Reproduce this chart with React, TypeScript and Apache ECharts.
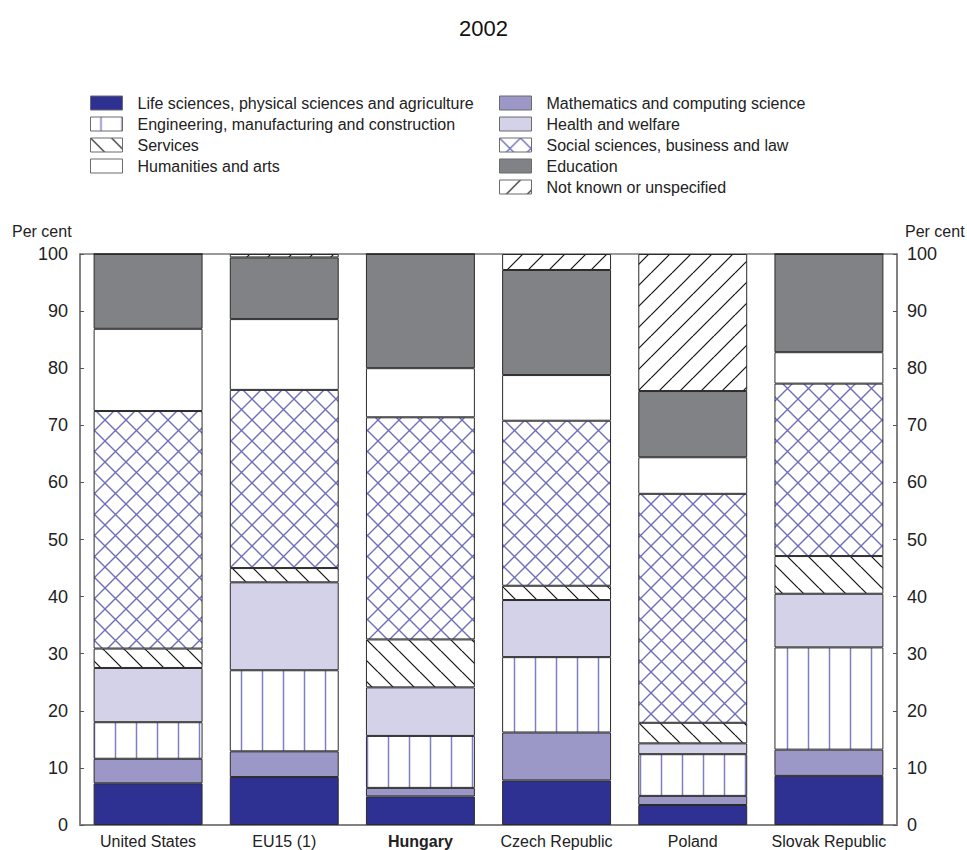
import React, { useEffect, useRef } from "react";
import * as echarts from "echarts";

const categories = ["United States", "EU15 (1)", "Hungary", "Czech Republic", "Poland", "Slovak Republic"];
const yTicks = [0, 10, 20, 30, 40, 50, 60, 70, 80, 90, 100];

const lifeSciences = [7.3, 8.4, 5.0, 7.8, 3.5, 8.6];
const mathematics = [4.3, 4.5, 1.5, 8.4, 1.6, 4.6];
const engineering = [6.4, 14.2, 9.1, 13.2, 7.3, 17.9];
const health = [9.5, 15.4, 8.5, 10.0, 1.9, 9.4];
const services = [3.4, 2.5, 8.4, 2.5, 3.6, 6.6];
const socialSciences = [41.6, 31.2, 38.9, 28.9, 40.1, 30.2];
const humanities = [14.4, 12.4, 8.6, 8.0, 6.4, 5.5];
const education = [13.1, 10.8, 20.0, 18.4, 11.6, 17.2];
const notKnown = [0, 0.6, 0, 2.8, 24.0, 0];

const names = {
  life: "Life sciences, physical sciences and agriculture",
  eng: "Engineering, manufacturing and construction",
  serv: "Services",
  hum: "Humanities and arts",
  math: "Mathematics and computing science",
  health: "Health and welfare",
  social: "Social sciences, business and law",
  edu: "Education",
  nk: "Not known or unspecified",
};

const FONT = "'Liberation Sans', Arial, Helvetica, sans-serif";

function makeTile(size: number, draw: (ctx: CanvasRenderingContext2D, s: number) => void) {
  const c = document.createElement("canvas");
  c.width = size;
  c.height = size;
  const ctx = c.getContext("2d") as CanvasRenderingContext2D;
  ctx.fillStyle = "#ffffff";
  ctx.fillRect(0, 0, size, size);
  draw(ctx, size);
  return { image: c, repeat: "repeat", imageWidth: size, imageHeight: size } as any;
}

function backslash(ctx: CanvasRenderingContext2D, s: number) {
  for (const k of [-1, 0, 1]) {
    ctx.moveTo(k * s, 0);
    ctx.lineTo(k * s + s, s);
  }
}
function slash(ctx: CanvasRenderingContext2D, s: number) {
  for (const k of [0, 1, 2]) {
    ctx.moveTo(k * s, 0);
    ctx.lineTo(k * s - s, s);
  }
}

export default function App() {
  const ref = useRef<HTMLDivElement>(null);
  useEffect(() => {
    if (!ref.current) return;
    const chart = echarts.init(ref.current, undefined, { renderer: "svg" });

    const vertPattern = makeTile(21, (ctx, s) => {
      ctx.strokeStyle = "#7f7fc2";
      ctx.lineWidth = 1.5;
      ctx.beginPath();
      ctx.moveTo(10.5, 0);
      ctx.lineTo(10.5, s);
      ctx.stroke();
    });
    const servPattern = makeTile(21, (ctx, s) => {
      ctx.strokeStyle = "#111111";
      ctx.lineWidth = 1.2;
      ctx.beginPath();
      backslash(ctx, s);
      ctx.stroke();
    });
    const nkPattern = makeTile(21, (ctx, s) => {
      ctx.strokeStyle = "#111111";
      ctx.lineWidth = 1.2;
      ctx.beginPath();
      slash(ctx, s);
      ctx.stroke();
    });
    const socialPattern = makeTile(21, (ctx, s) => {
      ctx.strokeStyle = "#6e6ebd";
      ctx.lineWidth = 1.4;
      ctx.beginPath();
      backslash(ctx, s);
      slash(ctx, s);
      ctx.stroke();
    });

    const border = { borderColor: "#2b2b2b", borderWidth: 1 };
    const mk = (name: string, data: number[], color: any) => ({
      name,
      type: "bar",
      stack: "total",
      data,
      barCategoryGap: "20%",
      itemStyle: { color, ...border },
      emphasis: { disabled: true },
    });

    const legendCommon = {
      orient: "vertical",
      icon: "rect",
      itemWidth: 32,
      itemHeight: 14,
      itemGap: 5,
      padding: 0,
      selectedMode: false,
      textStyle: { fontFamily: FONT, fontSize: 16, color: "#222", lineHeight: 16, padding: [0, 0, 0, 10] },
      itemStyle: { borderColor: "#6b6b6b", borderWidth: 1 },
    };

    chart.setOption({
      animation: false,
      textStyle: { fontFamily: FONT },
      title: {
        text: "2002",
        left: "center",
        top: 12,
        textStyle: { fontFamily: FONT, fontSize: 22, fontWeight: "normal", color: "#111" },
      },
      legend: [
        { ...legendCommon, left: 90, top: 95, data: [names.life, names.eng, names.serv, names.hum] },
        { ...legendCommon, left: 499, top: 95, data: [names.math, names.health, names.social, names.edu, names.nk] },
      ],
      grid: {
        left: 80,
        right: 70,
        top: 254,
        bottom: 25,
        show: true,
        borderColor: "#7a7a7a",
        borderWidth: 1.5,
        backgroundColor: "transparent",
      },
      graphic: [
        { type: "text", left: 12, top: 223, style: { text: "Per cent", font: `16px ${FONT}`, fill: "#222" } },
        { type: "text", left: 905, top: 223, style: { text: "Per cent", font: `16px ${FONT}`, fill: "#222" } },
      ],
      xAxis: {
        type: "category",
        data: categories,
        axisLine: { lineStyle: { color: "#7a7a7a", width: 1.5 } },
        axisTick: { alignWithLabel: true, inside: true, length: 4, lineStyle: { color: "#555" } },
        axisLabel: {
          interval: 0,
          fontFamily: FONT,
          fontSize: 16,
          color: "#222",
          margin: 8,
          formatter: (v: string) => (v === "Hungary" ? `{b|${v}}` : v),
          rich: { b: { fontWeight: "bold", fontSize: 16, fontFamily: FONT, color: "#222" } },
        },
      },
      yAxis: [
        {
          type: "value",
          min: yTicks[0],
          max: yTicks[yTicks.length - 1],
          interval: 10,
          position: "left",
          axisLine: { show: true, lineStyle: { color: "#7a7a7a", width: 1.5 } },
          axisTick: { show: true, inside: true, length: 4, lineStyle: { color: "#555" } },
          splitLine: { show: false },
          axisLabel: { fontFamily: FONT, fontSize: 18, color: "#222", margin: 12 },
        },
        {
          type: "value",
          min: yTicks[0],
          max: yTicks[yTicks.length - 1],
          interval: 10,
          position: "right",
          axisLine: { show: true, lineStyle: { color: "#7a7a7a", width: 1.5 } },
          axisTick: { show: true, inside: true, length: 4, lineStyle: { color: "#555" } },
          splitLine: { show: false },
          axisLabel: { fontFamily: FONT, fontSize: 18, color: "#222", margin: 10 },
        },
      ],
      series: [
        mk(names.life, lifeSciences, "#2e3192"),
        mk(names.math, mathematics, "#9b98c8"),
        mk(names.eng, engineering, vertPattern),
        mk(names.health, health, "#d3d2e9"),
        mk(names.serv, services, servPattern),
        mk(names.social, socialSciences, socialPattern),
        mk(names.hum, humanities, "#ffffff"),
        mk(names.edu, education, "#808285"),
        mk(names.nk, notKnown, nkPattern),
      ],
    });
    return () => chart.dispose();
  }, []);
  return (
    <div
      ref={ref}
      style={{ position: "absolute", left: 0, top: 0, width: 967, height: 850, background: "#fff" }}
    />
  );
}
